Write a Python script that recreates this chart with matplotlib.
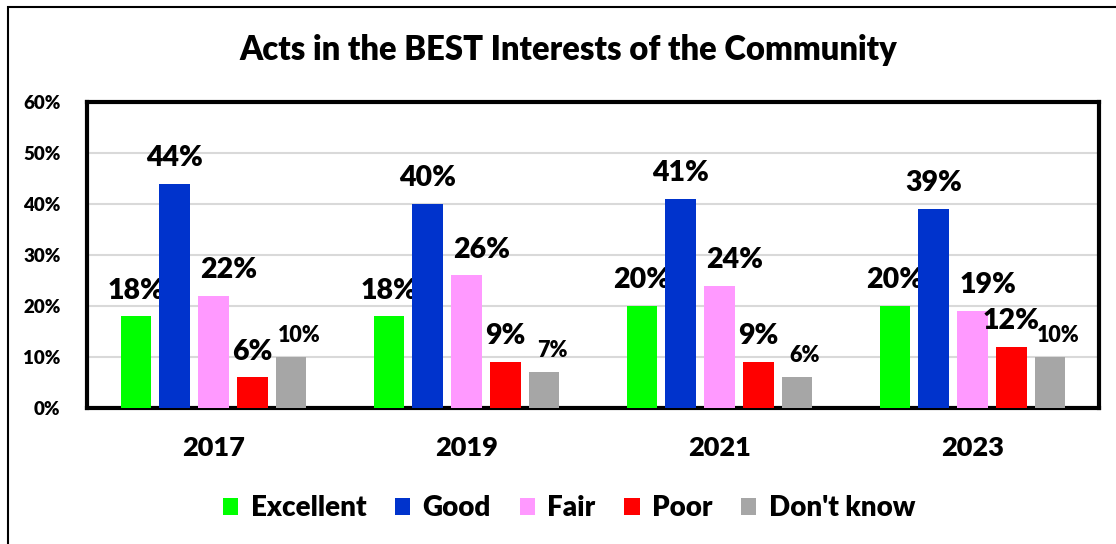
import matplotlib.pyplot as plt
import numpy as np
from matplotlib.patches import Rectangle

years = ['2017', '2019', '2021', '2023']
series = ['Excellent', 'Good', 'Fair', 'Poor', "Don't know"]
excellent = [18, 18, 20, 20]
good = [44, 40, 41, 39]
fair = [22, 26, 24, 19]
poor = [6, 9, 9, 12]
dont_know = [10, 7, 6, 10]
colors = ['#00ff00', '#0033cc', '#ff99ff', '#ff0000', '#a6a6a6']

W = 'heavy'
plt.rcParams['font.family'] = ['Lato', 'DejaVu Sans']
plt.rcParams['font.weight'] = W

fig = plt.figure(figsize=(11.16, 5.44), dpi=100)
ax = fig.add_axes([87/1116, 1 - 408/544, (1099-87)/1116, (408-102)/544])

# outer chart frame (runs off the right and bottom edges)
fig.patches.append(Rectangle((8/1116, -0.1), 1.2, (544-7)/544 + 0.1,
                             transform=fig.transFigure, fill=False,
                             edgecolor='black', linewidth=1.5))

x = np.arange(len(years))
pitch = 0.154
width = 0.119
data = [excellent, good, fair, poor, dont_know]
for i, (name, vals, c) in enumerate(zip(series, data, colors)):
    pos = x + (i - 2) * pitch
    ax.bar(pos, vals, width, color=c, label=name, zorder=3)
    for xp, v in zip(pos, vals):
        small = name == "Don't know"
        dx = 0
        if name == 'Fair':
            dx = 0.06
        elif small:
            dx = 0.03
        ax.annotate(f'{v}%', (xp + dx, v), xytext=(0, 18.5 if not small else 15.5),
                    textcoords='offset points', ha='center', va='center',
                    fontsize=15.5 if small else 20.5, fontweight=W)

ax.set_ylim(0, 60)
ax.set_xlim(-0.5, 3.5)
ax.set_yticks(np.arange(0, 61, 10))
ax.set_yticklabels([f'{t}%' for t in range(0, 61, 10)], fontsize=13.5, fontweight=W)
ax.set_xticks(x)
ax.set_xticklabels(years, fontsize=19.5, fontweight=W)
ax.tick_params(axis='both', length=0)
ax.tick_params(axis='x', pad=20)
ax.tick_params(axis='y', pad=19)
ax.grid(axis='y', color='#d9d9d9', linewidth=1.5, zorder=0)
for s in ax.spines.values():
    s.set_linewidth(3)
    s.set_color('black')

fig.text(0.509, 1 - 50/544, 'Acts in the BEST Interests of the Community',
         ha='center', va='center', fontsize=23.6, fontweight=W)

fig.legend(loc='center', bbox_to_anchor=(0.51, 1 - 508/544), ncol=5, frameon=False,
           fontsize=20, handlelength=0.55, handleheight=0.55, handletextpad=0.45,
           columnspacing=1.03)

plt.savefig('out.png', dpi=100)
